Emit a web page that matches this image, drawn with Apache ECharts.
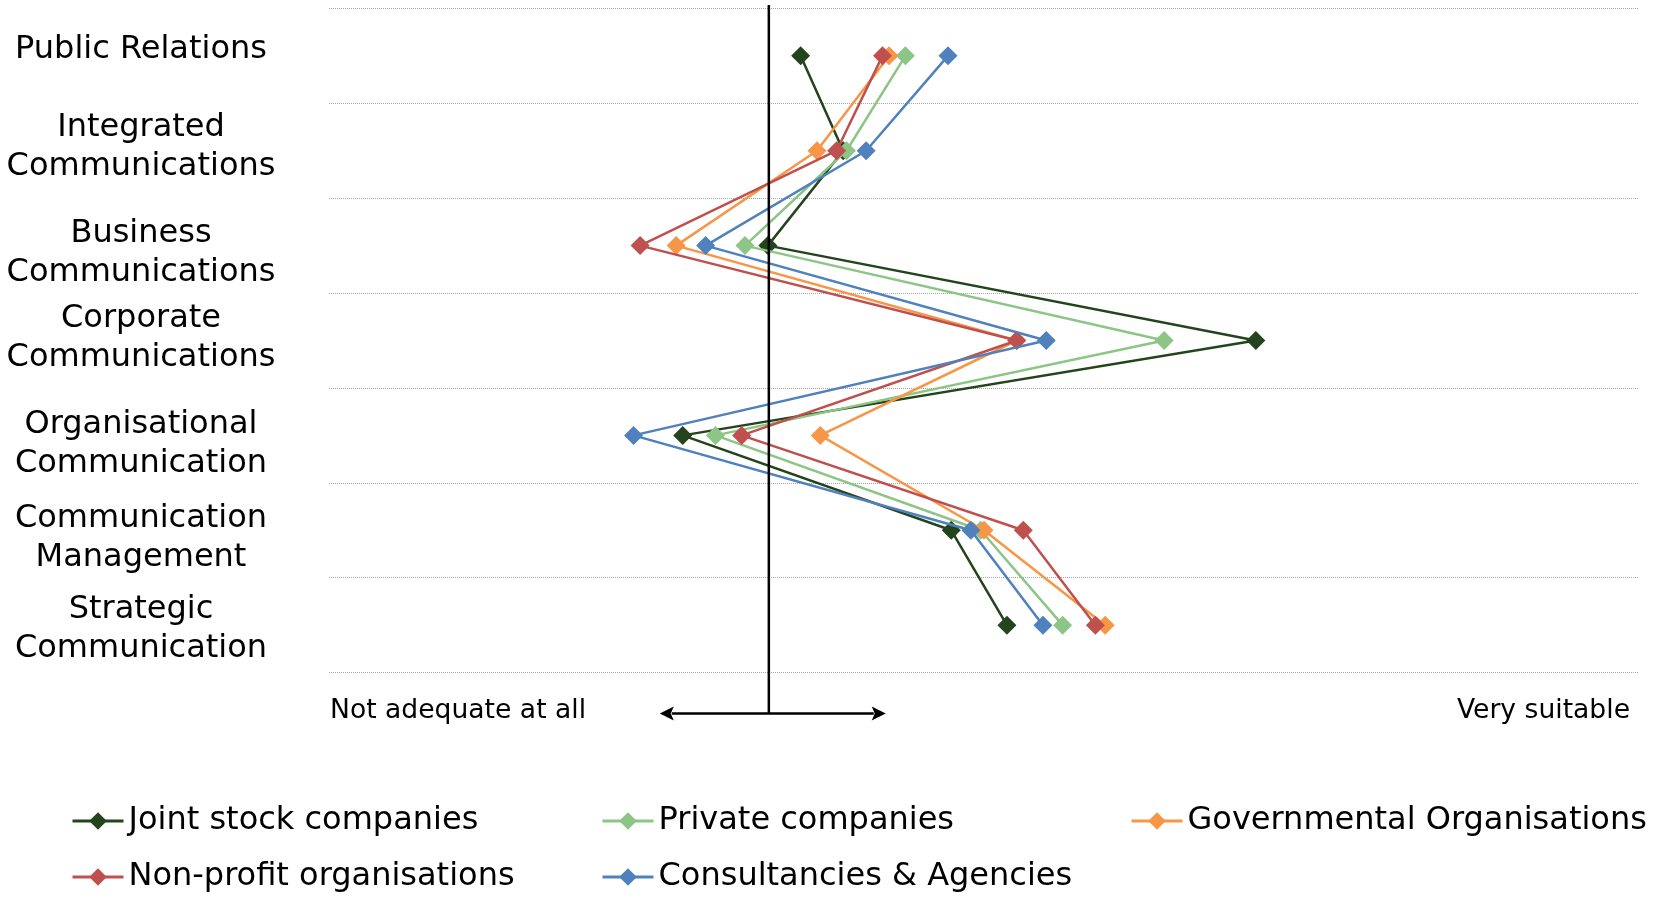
<!DOCTYPE html>
<html>
<head>
<meta charset="utf-8">
<script src="https://cdn.jsdelivr.net/npm/echarts@6/dist/echarts.min.js"></script>
<style>
  html, body { margin: 0; padding: 0; background: #ffffff; }
  #chart { width: 1653px; height: 900px; }
</style>
</head>
<body>
<div id="chart"></div>
<script>
// Communication fields, top to bottom
const categories = [
  'Public Relations',
  'Integrated\nCommunications',
  'Business\nCommunications',
  'Corporate\nCommunications',
  'Organisational\nCommunication',
  'Communication\nManagement',
  'Strategic\nCommunication'
];

// Mean suitability rating per organisation type (scale 1 = not adequate at all, 5 = very suitable)
const jointStock    = [2.44, 2.57, 2.34, 3.83, 2.08, 2.90, 3.07];
const privateCos    = [2.76, 2.58, 2.27, 3.55, 2.18, 2.99, 3.24];
const governmental  = [2.71, 2.49, 2.06, 3.10, 2.50, 3.00, 3.37];
const nonProfit     = [2.69, 2.55, 1.95, 3.10, 2.26, 3.12, 3.34];
const consultancies = [2.89, 2.64, 2.15, 3.19, 1.93, 2.96, 3.18];

const seriesNames = [
  'Joint stock companies',
  'Private companies',
  'Governmental Organisations',
  'Non-profit organisations',
  'Consultancies & Agencies'
];
const seriesColors = ['#23441C', '#8CC585', '#F79646', '#C0504D', '#4F81BD'];

// Scale ends and their captions
const scaleMin = 1;
const scaleMax = 5;
const scaleEndLabels = ['Not adequate at all', 'Very suitable'];

// Reference level and the span of the double arrow beneath it
const referenceLevel = 2.343;
const arrowSpan = [2.01, 2.70];

const FONT = '"DejaVu Sans", Verdana, sans-serif';

// Small vertical nudges (px) for the wrapped category captions
const captionNudge = [-6, -4, 8, -2, 9, 8, 4];

const chart = echarts.init(document.getElementById('chart'), null, { renderer: 'canvas' });

const dataSets = [jointStock, privateCos, governmental, nonProfit, consultancies];

const series = dataSets.map((values, i) => ({
  name: seriesNames[i],
  type: 'line',
  data: values,
  symbol: 'diamond',
  symbolSize: 19,
  showAllSymbol: true,
  lineStyle: { color: seriesColors[i], width: 2.5 },
  itemStyle: { color: seriesColors[i] },
  emphasis: { disabled: true },
  animation: false,
  z: 2 + i
}));

function legendItem(name, left, top) {
  return {
    data: [name],
    left: left,
    top: top,
    itemWidth: 51,
    itemHeight: 22,
    itemGap: 0,
    selectedMode: false,
    lineStyle: { width: 3 },
    textStyle: { fontFamily: FONT, fontSize: 32, color: '#000', lineHeight: 36, padding: [0, 0, 0, 0] }
  };
}

// Rich styles for category captions: text lines plus an empty spacer line
const captionRich = { t: { fontFamily: FONT, fontSize: 32, lineHeight: 39, color: '#000', align: 'center' } };
captionNudge.forEach((d, i) => {
  captionRich['g' + i] = { fontSize: 1, lineHeight: Math.max(1, Math.abs(d) * 2) };
});

const option = {
  backgroundColor: '#ffffff',
  animation: false,
  color: seriesColors,
  grid: { left: 329, right: 14, top: 8.4, height: 664.2, containLabel: false },
  xAxis: {
    type: 'value',
    min: scaleMin,
    max: scaleMax,
    interval: scaleMax - scaleMin,
    axisLine: { show: false },
    axisTick: { show: false },
    splitLine: { show: false },
    axisLabel: {
      show: true,
      margin: 38.5,
      verticalAlign: 'middle',
      fontFamily: FONT,
      fontSize: 26.6,
      color: '#000',
      alignMinLabel: 'left',
      alignMaxLabel: 'right',
      formatter: v => (v === scaleMin ? '{l|' + scaleEndLabels[0] + '}' : '{r|' + scaleEndLabels[1] + '}'),
      rich: {
        l: { fontFamily: FONT, fontSize: 26.6, color: '#000', padding: [0, 0, 0, 1] },
        r: { fontFamily: FONT, fontSize: 26.6, color: '#000', padding: [0, 9, 0, 0] }
      }
    }
  },
  yAxis: {
    type: 'category',
    data: categories,
    inverse: true,
    boundaryGap: true,
    axisLine: { show: false },
    axisTick: { show: false },
    splitLine: {
      show: true,
      showMinLine: true,
      showMaxLine: true,
      lineStyle: { color: '#a6a6a6', type: [1, 1], width: 1 }
    },
    axisLabel: {
      margin: 188,
      align: 'center',
      fontFamily: FONT,
      fontSize: 32,
      lineHeight: 39,
      color: '#000',
      formatter: (value, index) => {
        const lines = value.split('\n').map(l => '{t|' + l + '}');
        const d = captionNudge[index] || 0;
        const spacer = '{g' + index + '| }';
        if (d > 0) lines.unshift(spacer);
        else if (d < 0) lines.push(spacer);
        return lines.join('\n');
      },
      rich: captionRich
    }
  },
  legend: [
    legendItem(seriesNames[0], 66, 798),
    legendItem(seriesNames[3], 66, 854),
    legendItem(seriesNames[1], 596, 798),
    legendItem(seriesNames[4], 596, 854),
    legendItem(seriesNames[2], 1125, 798)
  ],
  series: series
};

chart.setOption(option);

// Reference line and the double-headed arrow under the plot
function drawReference() {
  const rect = chart.getModel().getComponent('grid').coordinateSystem.getRect();
  const xRef = chart.convertToPixel({ gridIndex: 0 }, [referenceLevel, categories[0]])[0];
  const xA = chart.convertToPixel({ gridIndex: 0 }, [arrowSpan[0], categories[0]])[0];
  const xB = chart.convertToPixel({ gridIndex: 0 }, [arrowSpan[1], categories[0]])[0];
  const arrowY = rect.y + rect.height + 41;
  const head = 14, half = 7;
  const stroke = { stroke: '#000', lineWidth: 2.5 };
  chart.setOption({
    graphic: [
      { type: 'line', z: 20, shape: { x1: xRef, y1: rect.y - 3.5, x2: xRef, y2: arrowY }, style: stroke },
      { type: 'line', z: 20, shape: { x1: xA + head - 2, y1: arrowY, x2: xB - head + 2, y2: arrowY }, style: stroke },
      { type: 'polygon', z: 20, shape: { points: [[xA, arrowY], [xA + head, arrowY - half], [xA + head - 3, arrowY], [xA + head, arrowY + half]] }, style: { fill: '#000' } },
      { type: 'polygon', z: 20, shape: { points: [[xB, arrowY], [xB - head, arrowY - half], [xB - head + 3, arrowY], [xB - head, arrowY + half]] }, style: { fill: '#000' } }
    ]
  });
}
drawReference();
</script>
</body>
</html>
